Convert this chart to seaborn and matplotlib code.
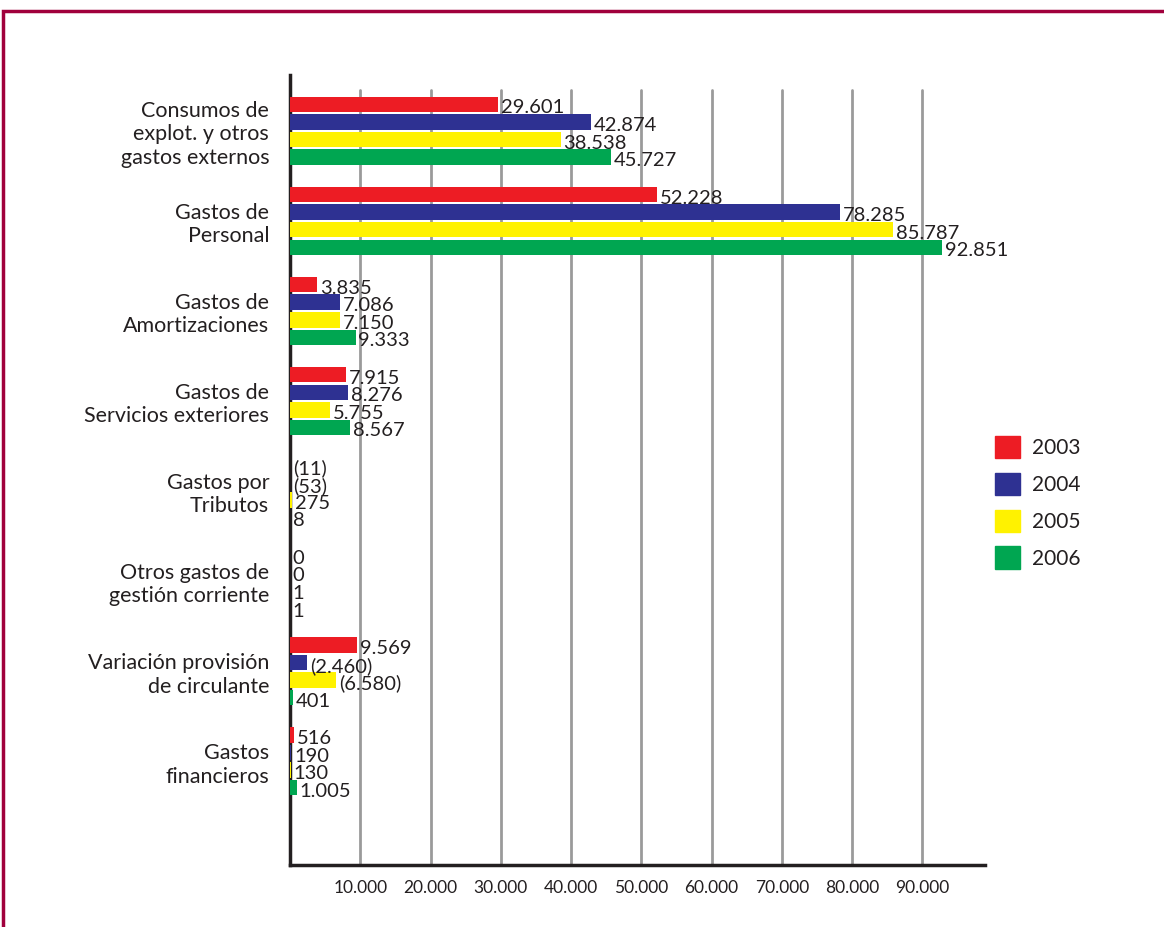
import pandas as pd
import numpy as np
import matplotlib
matplotlib.use("Agg")
import matplotlib.pyplot as plt
import matplotlib.patches as mpatches
import seaborn as sns

# ---------------------------------------------
# DATA (negative values are shown in brackets)
# ---------------------------------------------
categories = [
    "Consumos de\nexplot. y otros\ngastos externos",
    "Gastos de\nPersonal",
    "Gastos de\nAmortizaciones",
    "Gastos de\nServicios exteriores",
    "Gastos por\nTributos",
    "Otros gastos de\ngestión corriente",
    "Variación provisión\nde circulante",
    "Gastos\nfinancieros",
]
years = ["2003", "2004", "2005", "2006"]
v2003 = [29601, 52228, 3835, 7915, -11, 0, 9569, 516]
v2004 = [42874, 78285, 7086, 8276, -53, 0, -2460, 190]
v2005 = [38538, 85787, 7150, 5755, 275, 1, -6580, 130]
v2006 = [45727, 92851, 9333, 8567, 8, 1, 401, 1005]
colors = ["#ED1C24", "#2E3192", "#FFF200", "#00A651"]
x_ticks = [10000, 20000, 30000, 40000, 50000, 60000, 70000, 80000, 90000]

series = {"2003": v2003, "2004": v2004, "2005": v2005, "2006": v2006}
rows = []
for y in years:
    for c, v in zip(categories, series[y]):
        rows.append({"categoria": c, "anio": y, "valor": v, "largo": abs(v)})
df = pd.DataFrame(rows)


def fmt(v):
    s = f"{abs(v):,}".replace(",", ".")
    return f"({s})" if v < 0 else s


sns.set_style("white")
plt.rcParams["font.family"] = ["Lato", "DejaVu Sans"]

fig = plt.figure(figsize=(11.64, 9.27), dpi=100)
ax = fig.add_axes([290 / 1164, 62 / 927, 695 / 1164, 790 / 927])

sns.barplot(
    data=df, x="largo", y="categoria", hue="anio",
    hue_order=years, palette=colors, orient="h", saturation=1,
    width=0.78, gap=0.12, legend=False, ax=ax, zorder=3,
    edgecolor="none",
)

# value labels
for cont, y in zip(ax.containers, years):
    vals = series[y]
    for bar, v in zip(cont, vals):
        ax.annotate(fmt(v), (bar.get_width(), bar.get_y() + bar.get_height() / 2),
                    xytext=(2, -2.5), textcoords="offset points",
                    ha="left", va="center", fontsize=14.5, color="#231f20", zorder=4)

ax.set_xlim(0, 98900)
ax.set_ylim(8.15, -0.62)
for t in x_ticks:
    ax.axvline(t, ymin=0, ymax=0.981, color="#9a9a9a", lw=2, zorder=0)

ax.set_xticks(x_ticks)
ax.set_xticklabels([fmt(t) for t in x_ticks], fontsize=12.5)
ax.tick_params(axis="x", length=0, pad=11, colors="#231f20")
ax.tick_params(axis="y", length=0, pad=15)
for lab in ax.get_yticklabels():
    lab.set_fontsize(15.5)
    lab.set_multialignment("right")
    lab.set_color("#231f20")
ax.set_xlabel("")
ax.set_ylabel("")

for s in ["top", "right"]:
    ax.spines[s].set_visible(False)
for s in ["left", "bottom"]:
    ax.spines[s].set_color("#231f20")
    ax.spines[s].set_linewidth(2.5)

# legend
handles = [mpatches.Patch(color=c) for c in colors]
fig.legend(handles, years, loc="upper left",
           bbox_to_anchor=(976 / 1164, 1 - 417 / 927),
           frameon=False, fontsize=15, handlelength=1.2, handleheight=1.3,
           labelspacing=0.68, handletextpad=0.6, labelcolor="#231f20")

# outer frame
frame = mpatches.Rectangle((3 / 1164, -0.2), 1.2, 1.2 - 11 / 927,
                           transform=fig.transFigure, fill=False,
                           edgecolor="#A0003C", lw=2.5, clip_on=False)
fig.patches.append(frame)

fig.savefig("out.png", dpi=100)
